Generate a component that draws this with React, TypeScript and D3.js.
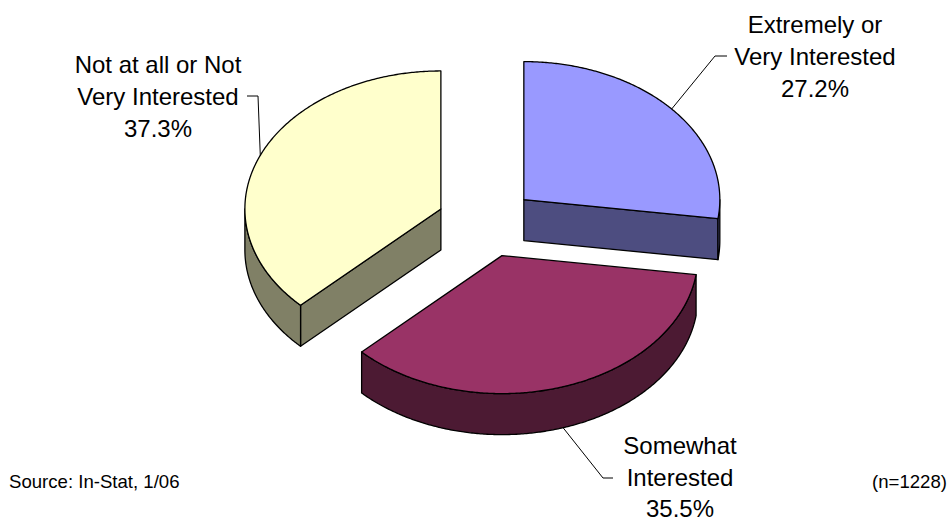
import React from "react";
import * as d3 from "d3";

// ---- data ----
const categories = ["Extremely or Very Interested", "Somewhat Interested", "Not at all or Not Very Interested"];
const values = [27.2, 35.5, 37.3];
const labelLines = [
  ["Extremely or", "Very Interested"],
  ["Somewhat", "Interested"],
  ["Not at all or Not", "Very Interested"],
];
const topColors = ["#9999FF", "#993366", "#FFFFCC"];
const sideColors = ["#4D4D80", "#4C1A33", "#808066"];
const sourceText = "Source: In-Stat, 1/06";
const sampleText = "(n=1228)";

// ---- layout ----
const W = 950, H = 521;
const CX = 486.5, CY = 222.5, RX = 196, RY = 138, DEPTH = 41, EXPLODE = 49.5;
const FONT = "'Liberation Sans', Arial, Helvetica, sans-serif";
const labelLayout = [
  { tx: 815, ty: 33, gap: 32, start: [727, 56], elbow: [715, 56] },
  { tx: 680, ty: 454, gap: 31.5, start: [613, 478], elbow: [603, 478] },
  { tx: 158, ty: 73, gap: 32, start: [247, 96], elbow: [258, 96] },
];

const fmt = d3.format(".1f");

export default function App() {
  const arcs = d3.pie<number>().sort(null).startAngle(0).endAngle(2 * Math.PI)(values);
  const line = d3.line<[number, number]>();
  const step = Math.PI / 360;

  const slices = arcs.map((a, i) => {
    const mid = (a.startAngle + a.endAngle) / 2;
    const ox = CX + EXPLODE * Math.sin(mid);
    const oy = CY - EXPLODE * Math.cos(mid) * (RY / RX);
    const pt = (t: number, dz = 0): [number, number] => [ox + RX * Math.sin(t), oy - RY * Math.cos(t) + dz];
    const angs = (s: number, e: number) => {
      const n = Math.max(2, Math.ceil((e - s) / step));
      return d3.range(n + 1).map((k) => s + ((e - s) * k) / n);
    };
    const topPts: [number, number][] = [[ox, oy], ...angs(a.startAngle, a.endAngle).map((t) => pt(t))];
    const top = line(topPts) + "Z";
    const a0 = Math.max(a.startAngle, Math.PI / 2);
    const a1 = Math.min(a.endAngle, (3 * Math.PI) / 2);
    let wall: string | null = null;
    if (a1 > a0) {
      const as = angs(a0, a1);
      const pts = [...as.map((t) => pt(t)), ...as.slice().reverse().map((t) => pt(t, DEPTH))];
      wall = line(pts) + "Z";
    }
    const faces: string[] = [];
    if (Math.sin(a.startAngle) < -1e-6) {
      faces.push(line([[ox, oy], pt(a.startAngle), pt(a.startAngle, DEPTH), [ox, oy + DEPTH]]) + "Z");
    }
    if (Math.sin(a.endAngle) > 1e-6) {
      faces.push(line([[ox, oy], pt(a.endAngle), pt(a.endAngle, DEPTH), [ox, oy + DEPTH]]) + "Z");
    }
    const inFront = mid > Math.PI / 2 && mid < (3 * Math.PI) / 2;
    const anchor = inFront ? pt(mid, DEPTH) : pt(mid);
    return { i, oy, top, wall, faces, anchor };
  });

  const order = slices.slice().sort((p, q) => p.oy - q.oy);

  return (
    <svg width={W} height={H} style={{ position: "absolute", left: 0, top: 0, background: "#fff" }}>
      <rect width={W} height={H} fill="#fff" />
      {order.map((s) => (
        <g key={categories[s.i]} stroke="#000" strokeWidth={1.3} strokeLinejoin="round">
          {s.faces.map((f, k) => (
            <path key={k} d={f} fill={sideColors[s.i]} />
          ))}
          {s.wall && <path d={s.wall} fill={sideColors[s.i]} />}
          <path d={s.top} fill={topColors[s.i]} />
        </g>
      ))}
      {slices.map((s) => {
        const L = labelLayout[s.i];
        const lines = [...labelLines[s.i], fmt(values[s.i]) + "%"];
        return (
          <g key={"lab" + s.i}>
            <path
              d={line([L.start as [number, number], L.elbow as [number, number], s.anchor]) || ""}
              fill="none"
              stroke="#000"
              strokeWidth={1}
            />
            {lines.map((t, k) => (
              <text key={k} x={L.tx} y={L.ty + k * L.gap} textAnchor="middle" fontFamily={FONT} fontSize={24} fill="#000">
                {t}
              </text>
            ))}
          </g>
        );
      })}
      <text x={9} y={488} fontFamily={FONT} fontSize={18.6} fill="#000">
        {sourceText}
      </text>
      <text x={947} y={488} textAnchor="end" fontFamily={FONT} fontSize={18.6} fill="#000">
        {sampleText}
      </text>
    </svg>
  );
}
